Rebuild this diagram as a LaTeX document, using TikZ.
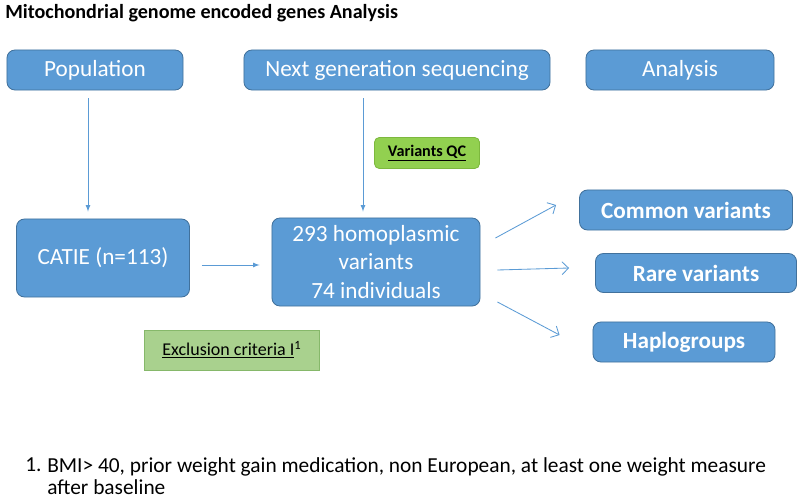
\documentclass[tikz,border=0pt]{standalone}
\usepackage{fontspec}
\setmainfont{Carlito}
\usetikzlibrary{arrows,arrows.meta}

\definecolor{boxblue}{HTML}{5B9BD5}
\definecolor{boxedge}{HTML}{41719C}
\definecolor{qcgreen}{HTML}{92D050}
\definecolor{qcedge}{HTML}{7DB83E}
\definecolor{exgreen}{HTML}{A9D18E}
\definecolor{exedge}{HTML}{86B86A}

\begin{document}
\begin{tikzpicture}[x = 0.025cm, y = -0.025cm]
\tikzstyle{BlueBox}=[rectangle, rounded corners = 0.2cm,
                     fill = boxblue, draw = boxedge, line width = 0.6pt,
                     text = white, align = center, inner sep = 0pt,
                     font = \fontsize{16.5}{20}\selectfont]
\tikzstyle{GreenBox}=[rectangle, inner sep = 0pt, line width = 0.6pt]
\tikzstyle{Flow}=[draw = boxblue, line width = 0.6pt, -latex]
\tikzstyle{Fan}=[draw = boxblue, line width = 0.6pt, -{Straight Barb[length = 1.6mm, width = 3.2mm]}]
\useasboundingbox (0,0) rectangle (800,499);
% title
\node[anchor = west, inner sep = 0pt, font = \fontsize{14.3}{16}\selectfont\bfseries] (title) at (5,13) {Mitochondrial genome encoded genes Analysis};
% header row
\node[BlueBox, minimum width = 4.4cm, minimum height = 1.0cm] (pop) at (95,70) {Population};
\node[BlueBox, minimum width = 7.65cm, minimum height = 1.0cm] (ngs) at (397,70) {Next generation sequencing};
\node[BlueBox, minimum width = 4.7cm, minimum height = 1.0cm] (ana) at (680,70) {Analysis};
% middle row
\node[BlueBox, minimum width = 4.325cm, minimum height = 1.95cm] (catie) at (103,258) {CATIE (n=113)};
\node[BlueBox, minimum width = 5.2cm, minimum height = 2.2cm] (var) at (376,262) {293 homoplasmic\\variants\\74 individuals};
% results
\node[BlueBox, minimum width = 5.325cm, minimum height = 1.0cm, font = \fontsize{16.5}{20}\selectfont\bfseries] (common) at (686,210) {Common variants};
\node[BlueBox, minimum width = 5.025cm, minimum height = 0.975cm, font = \fontsize{16.5}{20}\selectfont\bfseries] (rare) at (696,273) {Rare variants};
\node[BlueBox, minimum width = 4.55cm, minimum height = 1.0cm, font = \fontsize{16.5}{20}\selectfont\bfseries] (haplo) at (684,342) {Haplogroups};
% criteria
\node[GreenBox, rounded corners = 0.12cm, fill = qcgreen, draw = qcedge, minimum width = 2.625cm, minimum height = 0.775cm, font = \fontsize{11.5}{14}\selectfont\bfseries] (qc) at (427,153) {\underline{Variants QC}};
\node[GreenBox, fill = exgreen, draw = exedge, minimum width = 4.375cm, minimum height = 1.0cm, font = \fontsize{12.8}{15}\selectfont] (excl) at (232,350) {\underline{Exclusion criteria I}\textsuperscript{1}};
% arrows
\draw[Flow, shorten <= 0.2cm, shorten >= 0.175cm] ([xshift = -0.175cm]pop.south) -- ([xshift = -0.175cm]pop.south |- catie.north);
\draw[Flow, shorten <= 0.2cm, shorten >= 0.15cm] ([xshift = -0.85cm]ngs.south) -- ([xshift = -0.85cm]ngs.south |- var.north);
\draw[Flow, shorten <= 0.3cm, shorten >= 0.3cm] ([yshift = -0.175cm]catie.east) -- ([yshift = -0.175cm]catie.east -| var.west);
\draw[Fan] ([shift = {(15,-24)}]var.east) -- ([shift = {(-23,-5)}]common.west);
\draw[Fan] ([shift = {(17,8)}]var.east) -- ([shift = {(-26,-5)}]rare.west);
\draw[Fan] ([shift = {(17,40)}]var.east) -- ([shift = {(-33,-7)}]haplo.west);
% footnote
\node[anchor = north west, inner sep = 0pt, font = \fontsize{15.2}{16.2}\selectfont] (fnnum) at (25,457) {1.};
\node[anchor = north west, inner sep = 0pt, align = left, font = \fontsize{15.2}{16.2}\selectfont] (fntext) at (47,457) {BMI> 40, prior weight gain medication, non European, at least one weight measure\\after baseline};
\end{tikzpicture}
\end{document}
